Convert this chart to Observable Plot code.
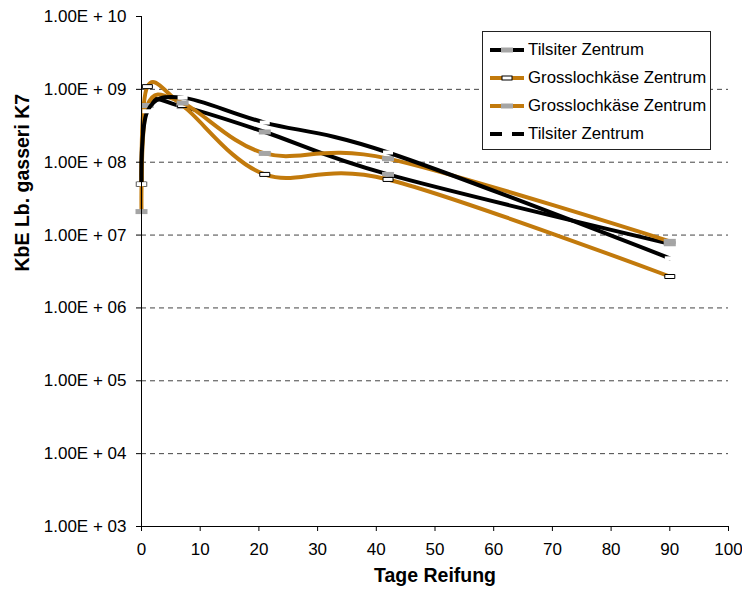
<!DOCTYPE html>
<html>
<head>
<meta charset="utf-8">
<script src="https://cdn.jsdelivr.net/npm/d3@7"></script>
<script src="https://cdn.jsdelivr.net/npm/@observablehq/plot@0.6"></script>
<style>
  body { margin: 0; background: #fff; font-family: "Liberation Sans", Arial, sans-serif; }
  #wrap { position: relative; width: 742px; height: 593px; }
  #legend { position: absolute; left: 482px; top: 31px; width: 229px; height: 119px;
            border: 1px solid #222; background: #fff; box-sizing: border-box; }
  .row { position: absolute; left: 6px; height: 20px; display: flex; align-items: center;
         font-size: 16.8px; color: #000; white-space: nowrap; }
  .row svg { margin-right: 3px; }
</style>
</head>
<body>
<div id="wrap"></div>
<script>
// ---- data ----
const days = [0, 1, 7, 21, 42, 90];
const seriesNames = ["Tilsiter Zentrum", "Grosslochkäse Zentrum", "Grosslochkäse Zentrum", "Tilsiter Zentrum"];
const tilsiterGray  = [5.0e7, 6.0e8, 5.8e8, 2.6e8, 6.8e7, 7.6e6];
const grossWhite    = [5.0e7, 1.09e9, 6.0e8, 6.8e7, 5.8e7, 2.7e6];
const grossGray     = [2.1e7, 6.0e8, 6.5e8, 1.32e8, 1.12e8, 8.2e6];
const tilsiterWhite = [5.0e7, 5.0e8, 7.7e8, 3.5e8, 1.36e8, 4.8e6];
const xTicks = [0, 10, 20, 30, 40, 50, 60, 70, 80, 90, 100];
const yTicks = [1e3, 1e4, 1e5, 1e6, 1e7, 1e8, 1e9, 1e10];
const gridTicks = [1e4, 1e5, 1e6, 1e7, 1e8, 1e9];

const BLACK = "#000000";
const ORANGE = "#c27a0c";
const GRAY = "#a5a5a5";

const styles = [
  {line: BLACK,  fill: GRAY,   stroke: "none"},
  {line: ORANGE, fill: "#fff", stroke: "#000"},
  {line: ORANGE, fill: GRAY,   stroke: "none"},
  {line: BLACK,  fill: "#fff", stroke: "none"}
];
const valuesList = [tilsiterGray, grossWhite, grossGray, tilsiterWhite];

const rectSymbol = (w, h) => ({draw(ctx) { ctx.rect(-w / 2, -h / 2, w, h); }});

const fmt = v => {
  const e = Math.round(Math.log10(v));
  return "1.00E + " + String(e).padStart(2, "0");
};

const marks = [
  Plot.ruleY(gridTicks, {stroke: "#444", strokeWidth: 1, strokeDasharray: "5,4"}),
];
valuesList.forEach((vals, i) => {
  const data = days.map((d, j) => ({day: d, v: vals[j]}));
  const s = styles[i];
  marks.push(Plot.line(data, {x: "day", y: "v", stroke: s.line, strokeWidth: 4, curve: "cardinal", tension: 0}));
  marks.push(Plot.dot(data, {x: "day", y: "v", symbol: rectSymbol(i === 0 || i === 2 ? 12 : 10, i === 0 || i === 2 ? 5 : 4),
    fill: s.fill, stroke: s.stroke, strokeWidth: 1, r: 3}));
});
marks.push(
  Plot.ruleX([0], {stroke: "#000", strokeWidth: 1}),
  Plot.ruleY([1e3], {stroke: "#000", strokeWidth: 1}),
  Plot.axisY(yTicks, {tickSize: 5, tickPadding: 10, tickFormat: fmt, fontSize: 17, label: null, stroke: "#000"}),
  Plot.axisX(xTicks, {tickSize: 5, tickPadding: 11, fontSize: 17, label: null, stroke: "#000"}),
  Plot.text(["KbE Lb. gasseri K7"], {frameAnchor: "left", dx: -119, rotate: -90, fontSize: 19.5, fontWeight: "bold", fill: "#000"}),
  Plot.text(["Tage Reifung"], {frameAnchor: "bottom", dy: 55, fontSize: 19.5, fontWeight: "bold", fill: "#000"})
);

const chart = Plot.plot({
  width: 742, height: 593,
  marginLeft: 141, marginRight: 14, marginTop: 16, marginBottom: 67,
  style: {fontFamily: "'Liberation Sans', Arial, sans-serif", color: "#000", background: "#fff"},
  x: {domain: [0, 100]},
  y: {type: "log", domain: [1e3, 1e10]},
  marks
});
const wrap = document.getElementById("wrap");
wrap.appendChild(chart);

// legend
const legend = document.createElement("div");
legend.id = "legend";
const rowTops = [8, 36, 64, 92];
seriesNames.forEach((name, i) => {
  const s = styles[i];
  const row = document.createElement("div");
  row.className = "row";
  row.style.top = rowTops[i] + "px";
  const w = (i === 0 || i === 2) ? 12 : 10, h = (i === 0 || i === 2) ? 5 : 4;
  row.innerHTML = `<svg width="36" height="20"><line x1="1" x2="35" y1="10" y2="10" stroke="${s.line}" stroke-width="4"/>` +
    `<rect x="${18 - w / 2}" y="${10 - h / 2}" width="${w}" height="${h}" fill="${s.fill}" stroke="${s.stroke}" stroke-width="1"/></svg>` +
    `<span>${name}</span>`;
  legend.appendChild(row);
});
wrap.appendChild(legend);
</script>
</body>
</html>
